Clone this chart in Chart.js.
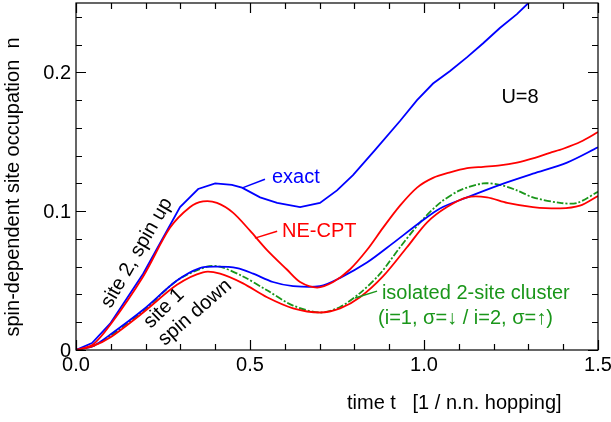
<!DOCTYPE html>
<html>
<head>
<meta charset="utf-8">
<script src="https://cdn.jsdelivr.net/npm/chart.js@4/dist/chart.umd.min.js"></script>
<style>
  body { margin: 0; background: #fff; }
  #wrap { width: 611px; height: 422px; }
</style>
</head>
<body>
<div id="wrap"><canvas id="occChart" width="611" height="422"></canvas></div>
<script>
// time axis values (1 / n.n. hopping) and occupations
const tExactUp = [0, 0.046, 0.098, 0.193, 0.299, 0.351, 0.40, 0.448, 0.477, 0.529, 0.578, 0.644, 0.701, 0.75, 0.796, 0.859, 0.931, 0.98, 1.026, 1.075, 1.124, 1.17, 1.218, 1.267, 1.30, 1.33];
const nExactUp = [0, 0.005, 0.019, 0.055, 0.103, 0.116, 0.120, 0.119, 0.117, 0.110, 0.106, 0.103, 0.106, 0.115, 0.126, 0.144, 0.165, 0.180, 0.192, 0.201, 0.211, 0.221, 0.232, 0.242, 0.250, 0.257];

const tCptUp = [0, 0.049, 0.098, 0.193, 0.27, 0.328, 0.365, 0.405, 0.451, 0.5, 0.549, 0.606, 0.644, 0.693, 0.739, 0.787, 0.836, 0.882, 0.931, 0.98, 1.026, 1.075, 1.124, 1.17, 1.218, 1.267, 1.313, 1.362, 1.40, 1.45, 1.5];
const nCptUp = [0, 0.004, 0.018, 0.053, 0.088, 0.103, 0.107, 0.106, 0.099, 0.086, 0.072, 0.058, 0.049, 0.045, 0.049, 0.058, 0.072, 0.088, 0.104, 0.117, 0.124, 0.128, 0.131, 0.132, 0.133, 0.135, 0.138, 0.142, 0.145, 0.150, 0.157];

const tExactDown = [0, 0.05, 0.098, 0.193, 0.29, 0.356, 0.405, 0.463, 0.509, 0.566, 0.624, 0.701, 0.759, 0.836, 0.911, 0.989, 1.046, 1.124, 1.218, 1.313, 1.411, 1.5];
const nExactDown = [0, 0.003, 0.011, 0.029, 0.050, 0.059, 0.060, 0.059, 0.055, 0.049, 0.046, 0.046, 0.052, 0.063, 0.077, 0.092, 0.102, 0.110, 0.119, 0.127, 0.135, 0.146];

const tCptDown = [0, 0.05, 0.098, 0.193, 0.29, 0.365, 0.414, 0.48, 0.549, 0.624, 0.701, 0.759, 0.816, 0.882, 0.951, 1.009, 1.066, 1.124, 1.181, 1.239, 1.313, 1.391, 1.448, 1.5];
const nCptDown = [0, 0.003, 0.009, 0.027, 0.047, 0.056, 0.055, 0.048, 0.038, 0.030, 0.027, 0.030, 0.038, 0.053, 0.074, 0.092, 0.103, 0.110, 0.110, 0.106, 0.103, 0.102, 0.104, 0.111];

const tCluster = [0, 0.05, 0.098, 0.193, 0.29, 0.376, 0.414, 0.48, 0.549, 0.624, 0.701, 0.759, 0.816, 0.874, 0.931, 0.989, 1.046, 1.103, 1.17, 1.218, 1.267, 1.313, 1.391, 1.44, 1.5];
const nCluster = [0, 0.003, 0.010, 0.028, 0.050, 0.060, 0.060, 0.053, 0.043, 0.032, 0.027, 0.031, 0.041, 0.055, 0.074, 0.092, 0.106, 0.115, 0.120, 0.119, 0.115, 0.110, 0.106, 0.106, 0.114];

const xMajorTicks = [0, 0.5, 1.0, 1.5];
const xTickLabels = ['0.0', '0.5', '1.0', '1.5'];
const yMajorTicks = [0, 0.1, 0.2];
const yTickLabels = ['0', '0.1', '0.2'];

const BLUE = '#0000ff';
const RED = '#ff0000';
const GREEN = '#1a961a';
const FONT = '"Liberation Sans", Arial, sans-serif';

const pts = (ts, ns) => ts.map((t, i) => ({ x: t, y: ns[i] }));

// ticks inward on all four sides, plus tick labels, titles and annotations
const framePlugin = {
  id: 'frame',
  afterDatasetsDraw(chart) {
    const { ctx, chartArea: a, scales: { x, y } } = chart;
    ctx.save();
    ctx.strokeStyle = '#000';
    ctx.lineWidth = 1.2;
    ctx.strokeRect(a.left, a.top, a.right - a.left, a.bottom - a.top);

    ctx.beginPath();
    for (let i = 0; i <= 15; i++) {
      const v = i * 0.1;
      const px = Math.round(x.getPixelForValue(v)) + 0.5;
      const len = i % 5 === 0 ? 10 : 6;
      ctx.moveTo(px, a.bottom); ctx.lineTo(px, a.bottom - len);
      ctx.moveTo(px, a.top); ctx.lineTo(px, a.top + len);
    }
    for (let i = 0; i <= 12; i++) {
      const v = i * 0.02;
      const py = Math.round(y.getPixelForValue(v)) + 0.5;
      const len = i % 5 === 0 ? 10 : 6;
      ctx.moveTo(a.left, py); ctx.lineTo(a.left + len, py);
      ctx.moveTo(a.right, py); ctx.lineTo(a.right - len, py);
    }
    ctx.stroke();

    ctx.fillStyle = '#000';
    ctx.font = '20px ' + FONT;
    ctx.textBaseline = 'top';
    ctx.textAlign = 'center';
    xMajorTicks.forEach((v, i) => ctx.fillText(xTickLabels[i], x.getPixelForValue(v), a.bottom + 5));
    ctx.textBaseline = 'middle';
    ctx.textAlign = 'right';
    yMajorTicks.forEach((v, i) => ctx.fillText(yTickLabels[i], a.left - 5, y.getPixelForValue(v) + 1));

    // axis titles
    ctx.textAlign = 'left';
    ctx.fillText('time t   [1 / n.n. hopping]', 347, 403);
    ctx.save();
    ctx.translate(13, 187);
    ctx.rotate(-Math.PI / 2);
    ctx.textAlign = 'center';
    ctx.fillText('spin-dependent site occupation  n', 0, 0);
    ctx.restore();

    // curve labels with leader lines (data coordinates)
    const P = (t, n) => [x.getPixelForValue(t), y.getPixelForValue(n)];
    const leader = (c, t0, n0, t1, n1) => {
      const [x0, y0] = P(t0, n0), [x1, y1] = P(t1, n1);
      ctx.strokeStyle = c; ctx.lineWidth = 1.5;
      ctx.beginPath(); ctx.moveTo(x0, y0); ctx.lineTo(x1, y1); ctx.stroke();
    };
    const label = (c, txt, t, n) => {
      const [px, py] = P(t, n);
      ctx.fillStyle = c; ctx.fillText(txt, px, py);
    };
    ctx.textAlign = 'left';
    leader(BLUE, 0.48, 0.117, 0.543, 0.123);
    label(BLUE, 'exact', 0.563, 0.1245);
    leader(RED, 0.514, 0.0806, 0.578, 0.0856);
    label(RED, 'NE-CPT', 0.592, 0.0856);
    leader(GREEN, 0.802, 0.0374, 0.865, 0.0424);
    label(GREEN, 'isolated 2-site cluster', 0.879, 0.041);
    label(GREEN, '(i=1, \u03c3=\u2193 / i=2, \u03c3=\u2191)', 0.868, 0.023);
    ctx.textAlign = 'center';
    label('#000', 'U=8', 1.276, 0.182);

    const rotText = (txt, t, n, deg) => {
      const [px, py] = P(t, n);
      ctx.save();
      ctx.translate(px, py);
      ctx.rotate(deg * Math.PI / 180);
      ctx.fillStyle = '#000';
      ctx.textAlign = 'center';
      ctx.fillText(txt, 0, 0);
      ctx.restore();
    };
    rotText('site 2, spin up', 0.175, 0.070, -60);
    rotText('site 1', 0.253, 0.030, -44);
    rotText('spin down', 0.342, 0.027, -41);
    ctx.restore();
  }
};

new Chart(document.getElementById('occChart'), {
  type: 'line',
  data: {
    datasets: [
      { data: pts(tCptUp, nCptUp), borderColor: RED, tension: 0.3 },
      { data: pts(tCptDown, nCptDown), borderColor: RED, tension: 0.3 },
      { data: pts(tExactUp, nExactUp), borderColor: BLUE, tension: 0 },
      { data: pts(tExactDown, nExactDown), borderColor: BLUE, tension: 0.3 },
      { data: pts(tCluster, nCluster), borderColor: GREEN, tension: 0.3, borderDash: [7, 2, 2, 2] }
    ]
  },
  options: {
    responsive: false,
    animation: false,
    layout: { padding: { left: 76, top: 3, right: 13, bottom: 72 } },
    elements: {
      point: { radius: 0, hoverRadius: 0 },
      line: { borderWidth: 1.8, fill: false }
    },
    scales: {
      x: { type: 'linear', min: 0, max: 1.5, display: false },
      y: { type: 'linear', min: 0, max: 0.25, display: false }
    },
    plugins: {
      legend: { display: false },
      tooltip: { enabled: false }
    }
  },
  plugins: [framePlugin]
});
</script>
</body>
</html>
